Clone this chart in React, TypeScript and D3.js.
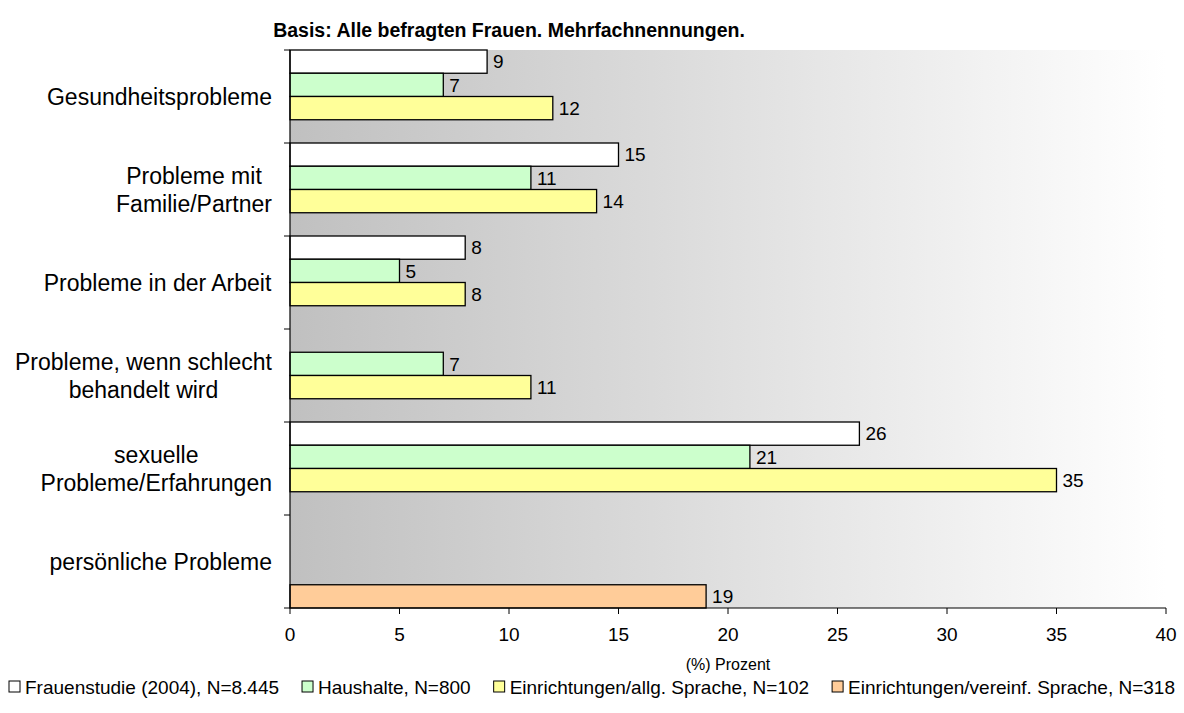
import React, { useMemo } from "react";
import * as d3 from "d3";

const categories: string[][] = [
  ["Gesundheitsprobleme"],
  ["Probleme mit ", "Familie/Partner"],
  ["Probleme in der Arbeit"],
  ["Probleme, wenn schlecht", "behandelt wird"],
  ["sexuelle", "Probleme/Erfahrungen"],
  ["persönliche Probleme"],
];
const seriesNames = [
  "Frauenstudie (2004), N=8.445",
  "Haushalte, N=800",
  "Einrichtungen/allg. Sprache, N=102",
  "Einrichtungen/vereinf. Sprache, N=318",
];
const frauenstudie: (number | null)[] = [9, 15, 8, null, 26, null];
const haushalte: (number | null)[] = [7, 11, 5, 7, 21, null];
const einrAllg: (number | null)[] = [12, 14, 8, 11, 35, null];
const einrVereinf: (number | null)[] = [null, null, null, null, null, 19];
const seriesColors = ["#FFFFFF", "#CCFFCC", "#FFFF99", "#FFCC99"];
const xTicks = [0, 5, 10, 15, 20, 25, 30, 35, 40];

const FONT = "'Liberation Sans', Arial, sans-serif";

function measure(text: string, size: number, bold = false): number {
  if (typeof document === "undefined") return text.length * size * 0.55;
  const c = document.createElement("canvas").getContext("2d");
  if (!c) return text.length * size * 0.55;
  c.font = `${bold ? "bold " : ""}${size}px 'Liberation Sans'`;
  return c.measureText(text).width;
}

export default function App() {
  const W = 1184, H = 713;
  const left = 290, right = 1166, top = 50, bottom = 608;
  const x = d3.scaleLinear().domain([0, 40]).range([left, right]);
  const idx = categories.map((_, i) => String(i));
  const y = d3.scaleBand<string>().domain(idx).range([top, bottom]).paddingInner(0).paddingOuter(0);
  const sub = d3.scaleBand<number>().domain([0, 1, 2, 3]).range([0, y.bandwidth()]).padding(0);
  const data = [frauenstudie, haushalte, einrAllg, einrVereinf];

  const labelFs = 23;
  const labelBlocks = useMemo(
    () => categories.map((lines) => Math.max(...lines.map((l) => measure(l.trim(), labelFs)))),
    []
  );

  const legendFs = 19;
  const sq = 11, sqGap = 5, itemGap = 23;
  const legendLayout = useMemo(() => {
    const widths = seriesNames.map((n) => measure(n, legendFs));
    const total = widths.reduce((a, b) => a + b, 0) + seriesNames.length * (sq + sqGap) + (seriesNames.length - 1) * itemGap;
    let cur = W / 2 - total / 2;
    return widths.map((w) => {
      const p = cur;
      cur += sq + sqGap + w + itemGap;
      return p;
    });
  }, []);

  return (
    <svg width={W} height={H} style={{ position: "absolute", left: 0, top: 0 }} fontFamily={FONT}>
      <defs>
        <linearGradient id="bg" x1="0" x2="1" y1="0" y2="0">
          <stop offset="0" stopColor="#c0c0c0" />
          <stop offset="1" stopColor="#ffffff" />
        </linearGradient>
      </defs>
      <rect x={0} y={0} width={W} height={H} fill="#fff" />
      <text x={509} y={37} textAnchor="middle" fontSize={19.5} fontWeight="bold">
        Basis: Alle befragten Frauen. Mehrfachnennungen.
      </text>
      <rect x={left} y={top} width={right - left} height={bottom - top} fill="url(#bg)" />

      {data.map((vals, s) =>
        vals.map((v, i) =>
          v == null ? null : (
            <g key={`${s}-${i}`}>
              <rect
                x={x(0)}
                y={(y(String(i)) as number) + (sub(s) as number)}
                width={x(v) - x(0)}
                height={sub.bandwidth()}
                fill={seriesColors[s]}
                stroke="#000"
                strokeWidth={1.3}
              />
              <text
                x={x(v) + 6}
                y={(y(String(i)) as number) + (sub(s) as number) + sub.bandwidth() / 2}
                dy="0.36em"
                fontSize={19}
              >
                {v}
              </text>
            </g>
          )
        )
      )}

      {/* axes */}
      <line x1={left} x2={left} y1={top} y2={bottom} stroke="#000" strokeWidth={1.2} />
      <line x1={left} x2={right} y1={bottom} y2={bottom} stroke="#000" strokeWidth={1.2} />
      {idx.concat(["end"]).map((k, i) => {
        const yy = i < categories.length ? (y(k) as number) : bottom;
        return <line key={k} x1={left - 6} x2={left} y1={yy} y2={yy} stroke="#000" strokeWidth={1} />;
      })}
      {xTicks.map((t) => (
        <g key={t}>
          <line x1={x(t)} x2={x(t)} y1={bottom} y2={bottom + 6} stroke="#000" strokeWidth={1} />
          <text x={x(t)} y={641} textAnchor="middle" fontSize={19}>
            {t}
          </text>
        </g>
      ))}
      <text x={(left + right) / 2} y={670} textAnchor="middle" fontSize={16}>
        (%) Prozent
      </text>

      {/* category labels */}
      {categories.map((lines, i) => {
        const cy = (y(String(i)) as number) + y.bandwidth() / 2;
        const cx = 272 - labelBlocks[i] / 2;
        const lh = 28.3;
        const y0 = cy - ((lines.length - 1) * lh) / 2;
        return (
          <text key={i} fontSize={labelFs} textAnchor="middle">
            {lines.map((l, j) => (
              <tspan key={j} x={cx} y={y0 + j * lh} dy="0.36em">
                {l.trim()}
              </tspan>
            ))}
          </text>
        );
      })}

      {/* legend */}
      {seriesNames.map((n, i) => (
        <g key={n}>
          <rect x={legendLayout[i]} y={681} width={sq} height={sq} fill={seriesColors[i]} stroke="#000" strokeWidth={1} />
          <text x={legendLayout[i] + sq + sqGap} y={694} fontSize={legendFs}>
            {n}
          </text>
        </g>
      ))}
    </svg>
  );
}
